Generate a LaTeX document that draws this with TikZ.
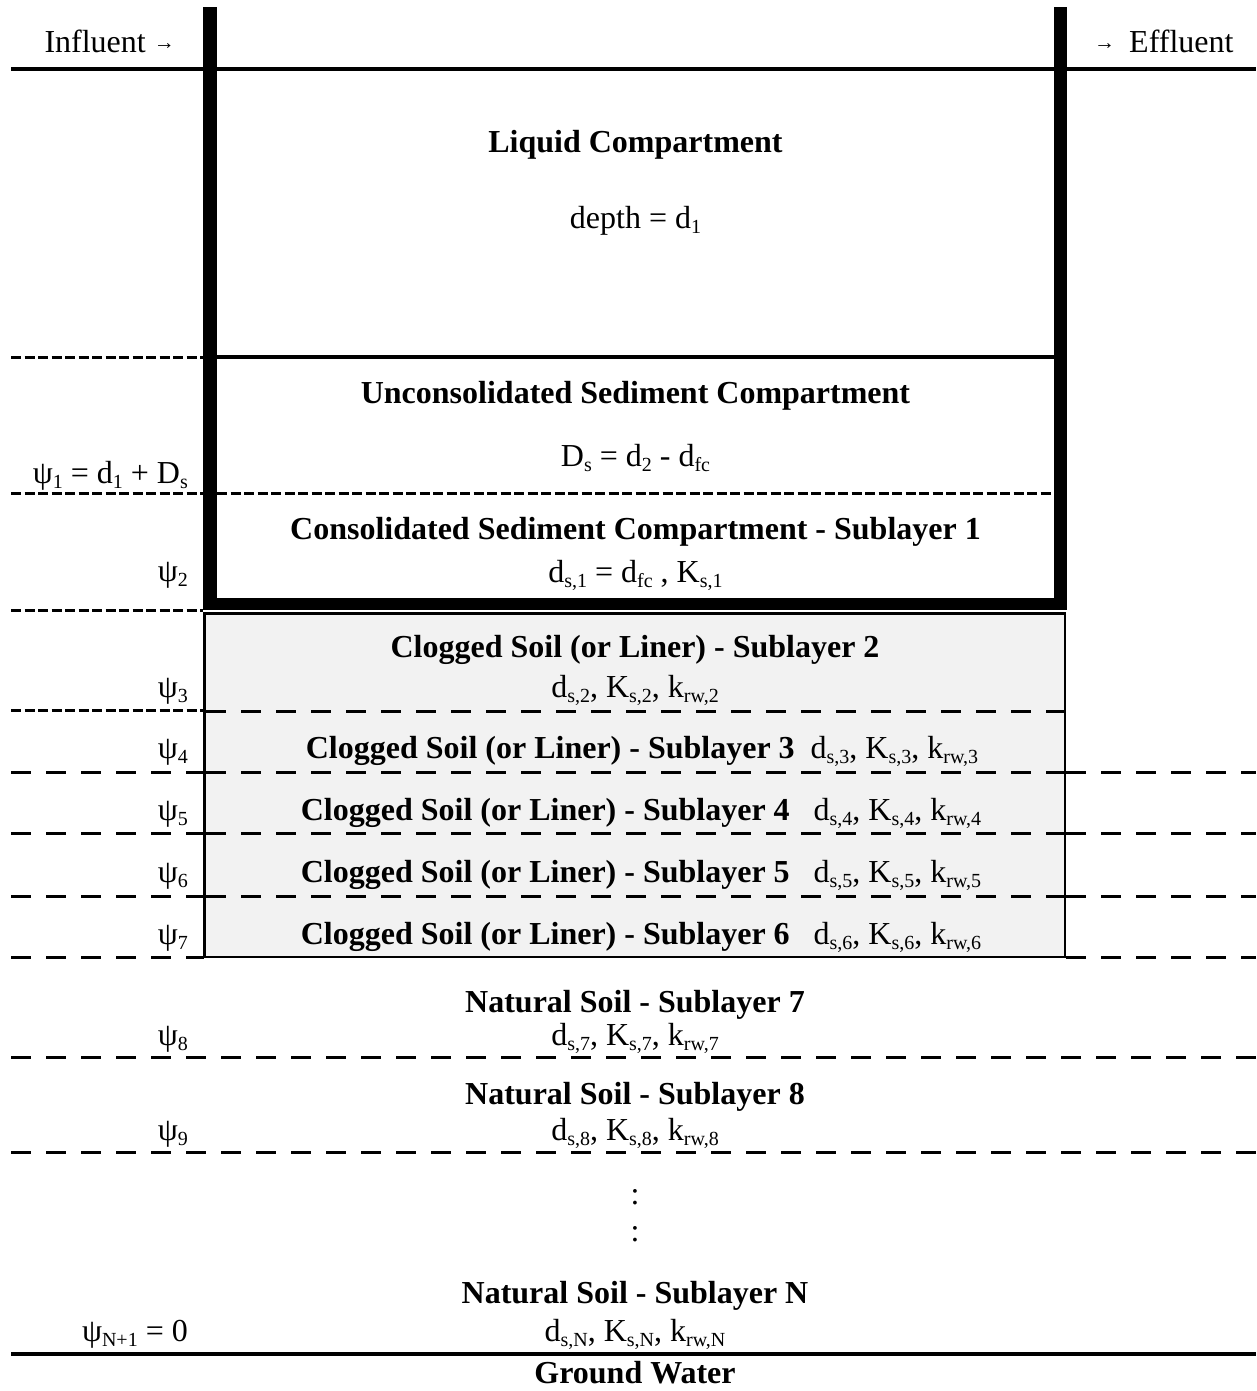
\documentclass[tikz,border=0pt]{standalone}
\usepackage{fontspec}
\setmainfont{Liberation Serif}
\definecolor{soilgray}{HTML}{F2F2F2}
\newcommand\sbs[1]{\raisebox{-5.5pt}{\fontsize{20}{20}\selectfont #1}}
\newcommand\smallarr{\raisebox{3pt}{\fontsize{21}{21}\selectfont →}}
\begin{document}
\begin{tikzpicture}[x=1pt,y=-1pt,
  txt/.style={font=\fontsize{32}{38}\selectfont, inner sep=0pt, anchor=base},
  bt/.style={font=\fontsize{32}{38}\selectfont\bfseries, inner sep=0pt, anchor=base},
  solidln/.style={line width=3.2pt},
  sdash/.style={line width=3pt, dash pattern=on 10pt off 3.5pt},
  ldash/.style={line width=3pt, dash pattern=on 20pt off 15pt},
  wall/.style={fill=black}]
\useasboundingbox (0,0) rectangle (1256,1391);

% gray clogged soil box
\draw[line width=2.8pt, fill=soilgray] (204.5,613.5) rectangle (1065,957);

% top water line
\draw[solidln] (11,69) -- (1256,69);
% liquid / unconsolidated boundary
\draw[sdash] (11,357) -- (203,357);
\draw[solidln] (217,357) -- (1054,357);
% unconsolidated / consolidated
\draw[sdash] (11,493) -- (203,493);
\draw[sdash] (217,493) -- (1054,493);
% consolidated bottom
\draw[sdash] (11,610) -- (203,610);
% sublayer 2 / 3
\draw[sdash] (11,710) -- (204,710);
\draw[ldash] (206,711) -- (1064,711);
% sublayers 3..6
\foreach \yy in {772,833,896} {
  \draw[ldash] (11,\yy) -- (204,\yy);
  \draw[ldash] (206,\yy) -- (1064,\yy);
  \draw[ldash] (1066,\yy) -- (1256,\yy);
}
\draw[ldash] (11,957) -- (204,957);
\draw[ldash] (1066,957) -- (1256,957);
% natural soil
\draw[ldash] (11,1057) -- (1256,1057);
\draw[ldash] (11,1152) -- (1256,1152);
% ground water
\draw[solidln] (11,1354) -- (1256,1354);

% thick walls
\fill[wall] (203,7) rectangle (217,610);
\fill[wall] (1054,7) rectangle (1067,610);
\fill[wall] (203,598) rectangle (1067,610);

% labels
\node[txt, anchor=base east] (infl) at (175,53) {Influent \smallarr};
\node[txt, anchor=base west] (effl) at (1094,53) {\smallarr\hspace{14pt}Effluent};

\node[bt] (liq) at (635.5,153) {Liquid Compartment};
\node[txt] (depth) at (635.5,228) {depth = d\sbs{1}};

\node[bt] (unc) at (635.5,403) {Unconsolidated Sediment Compartment};
\node[txt] (dsl) at (635.5,466) {D\sbs{s} = d\sbs{2} - d\sbs{fc}};
\node[txt, anchor=base east] (psi1) at (188,483) {ψ\sbs{1} = d\sbs{1} + D\sbs{s}};

\node[bt] (con) at (635.5,539) {Consolidated Sediment Compartment - Sublayer 1};
\node[txt] (p1) at (635.5,582) {d\sbs{s,1} = d\sbs{fc} , K\sbs{s,1}};
\node[txt, anchor=base east] (psi2) at (188,581) {ψ\sbs{2}};

\node[bt] (cl2) at (635,657) {Clogged Soil (or Liner) - Sublayer 2};
\node[txt] (p2) at (635,697) {d\sbs{s,2}, K\sbs{s,2}, k\sbs{rw,2}};
\node[txt, anchor=base east] (psi3) at (188,697) {ψ\sbs{3}};

\node[txt] (cl3) at (642,758) {\textbf{Clogged Soil (or Liner) - Sublayer 3}\ \ d\sbs{s,3}, K\sbs{s,3}, k\sbs{rw,3}};
\node[txt, anchor=base east] (psi4) at (188,758) {ψ\sbs{4}};
\node[txt] (cl4) at (641,820) {\textbf{Clogged Soil (or Liner) - Sublayer 4}\ \ \ d\sbs{s,4}, K\sbs{s,4}, k\sbs{rw,4}};
\node[txt, anchor=base east] (psi5) at (188,820) {ψ\sbs{5}};
\node[txt] (cl5) at (641,882) {\textbf{Clogged Soil (or Liner) - Sublayer 5}\ \ \ d\sbs{s,5}, K\sbs{s,5}, k\sbs{rw,5}};
\node[txt, anchor=base east] (psi6) at (188,882) {ψ\sbs{6}};
\node[txt] (cl6) at (641,944) {\textbf{Clogged Soil (or Liner) - Sublayer 6}\ \ \ d\sbs{s,6}, K\sbs{s,6}, k\sbs{rw,6}};
\node[txt, anchor=base east] (psi7) at (188,944) {ψ\sbs{7}};

\node[bt] (n7) at (635,1012) {Natural Soil - Sublayer 7};
\node[txt] (p7) at (635,1045) {d\sbs{s,7}, K\sbs{s,7}, k\sbs{rw,7}};
\node[txt, anchor=base east] (psi8) at (188,1045) {ψ\sbs{8}};

\node[bt] (n8) at (635,1104) {Natural Soil - Sublayer 8};
\node[txt] (p8) at (635,1140) {d\sbs{s,8}, K\sbs{s,8}, k\sbs{rw,8}};
\node[txt, anchor=base east] (psi9) at (188,1140) {ψ\sbs{9}};

\node[txt] (dots1) at (635,1204) {:};
\node[txt] (dots2) at (635,1241) {:};

\node[bt] (nn) at (635,1303) {Natural Soil - Sublayer N};
\node[txt] (pn) at (635,1341) {d\sbs{s,N}, K\sbs{s,N}, k\sbs{rw,N}};
\node[txt, anchor=base east] (psin) at (188,1341) {ψ\sbs{N+1} = 0};

\node[bt] (gw) at (635,1383) {Ground Water};
\end{tikzpicture}
\end{document}
